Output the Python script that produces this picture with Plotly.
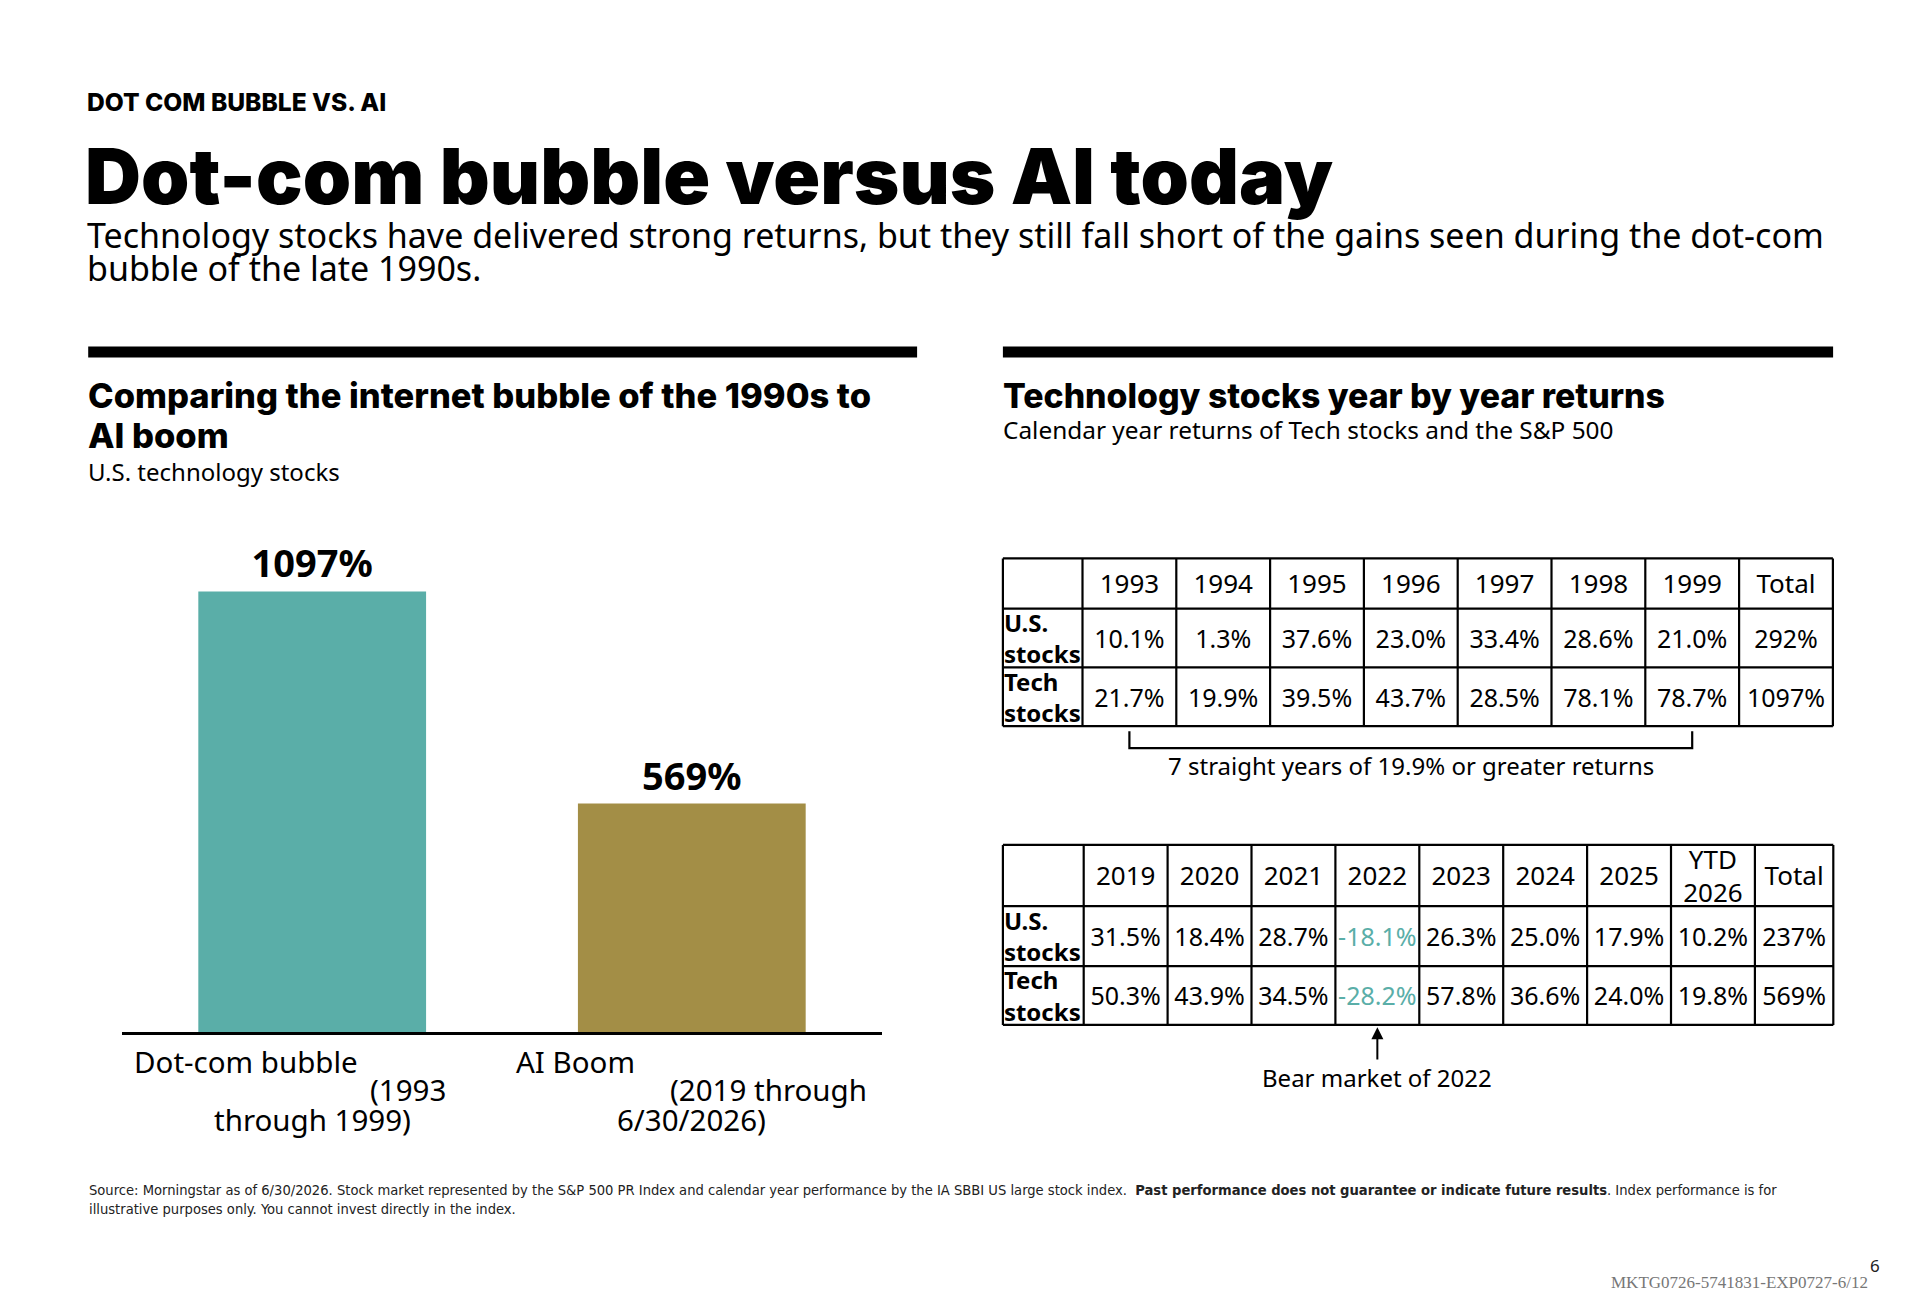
import plotly.graph_objects as go

W, H = 1920, 1309

# ---- bar chart data ----
periods = ["Dot-com bubble", "AI Boom"]
period_line2 = ["(1993", "(2019 through"]
period_line3 = ["through 1999)", "6/30/2026)"]
total_returns = [1097, 569]
bar_colors = ["#5aaea8", "#a38e46"]

# ---- table data ----
years_90s = ["1993", "1994", "1995", "1996", "1997", "1998", "1999", "Total"]
us_90s = ["10.1%", "1.3%", "37.6%", "23.0%", "33.4%", "28.6%", "21.0%", "292%"]
tech_90s = ["21.7%", "19.9%", "39.5%", "43.7%", "28.5%", "78.1%", "78.7%", "1097%"]

years_ai = ["2019", "2020", "2021", "2022", "2023", "2024", "2025", "YTD<br>2026", "Total"]
us_ai = ["31.5%", "18.4%", "28.7%", "-18.1%", "26.3%", "25.0%", "17.9%", "10.2%", "237%"]
tech_ai = ["50.3%", "43.9%", "34.5%", "-28.2%", "57.8%", "36.6%", "24.0%", "19.8%", "569%"]

row_labels = ["U.S.<br>stocks", "Tech<br>stocks"]

TEAL = "#5aaea8"
BODY = "Noto Sans"
HEAVY = "Inter"


def py(px):
    return 1 - px / H


def pxx(px):
    return px / W


fig = go.Figure()

# bars
fig.add_trace(go.Bar(
    x=periods, y=total_returns, width=0.6,
    marker=dict(color=bar_colors, line=dict(width=0)),
    texttemplate="<b>%{y}%</b>", textposition="outside",
    textfont=dict(family=BODY, size=38, color="black"),
    cliponaxis=False, showlegend=False, hoverinfo="skip",
    xaxis="x", yaxis="y",
))

# tables are drawn on a hidden axis in pixel-like units (0,0 = top-left corner of the first table)
OX, OY = 1002.9, 558.4
TXT_DY = 3.5  # text sits a little below the geometric middle of each cell


def add_table(top, col_widths, row_heights, header, rows, shapes):
    edges_x = [0]
    for w in col_widths:
        edges_x.append(edges_x[-1] + w)
    edges_y = [top]
    for h in row_heights:
        edges_y.append(edges_y[-1] + h)
    for ex in edges_x:
        shapes.append(dict(type="line", xref="x2", yref="y2", x0=ex, x1=ex, y0=edges_y[0], y1=edges_y[-1],
                           line=dict(color="black", width=2.2)))
    for ey in edges_y:
        shapes.append(dict(type="line", xref="x2", yref="y2", x0=edges_x[0], x1=edges_x[-1], y0=ey, y1=ey,
                           line=dict(color="black", width=2.2)))
    cx = [(edges_x[i] + edges_x[i + 1]) / 2 for i in range(1, len(col_widths))]
    cy = [(edges_y[i] + edges_y[i + 1]) / 2 + TXT_DY for i in range(len(row_heights))]
    fig.add_trace(go.Scatter(
        x=cx, y=[cy[0]] * len(header), text=header, mode="text",
        textfont=dict(family=BODY, size=26, color="black"),
        showlegend=False, hoverinfo="skip", xaxis="x2", yaxis="y2", cliponaxis=False,
    ))
    for r, vals in enumerate(rows):
        fig.add_trace(go.Scatter(
            x=[edges_x[0] + 1], y=[cy[r + 1]], text=["<b>" + row_labels[r] + "</b>"], mode="text",
            textposition="middle right",
            textfont=dict(family=BODY, size=24, color="black"),
            showlegend=False, hoverinfo="skip", xaxis="x2", yaxis="y2", cliponaxis=False,
        ))
        fig.add_trace(go.Scatter(
            x=cx, y=[cy[r + 1]] * len(vals), text=vals, mode="text",
            textfont=dict(family=BODY, size=25,
                          color=[TEAL if v.startswith("-") else "black" for v in vals]),
            showlegend=False, hoverinfo="skip", xaxis="x2", yaxis="y2", cliponaxis=False,
        ))
    return edges_x, edges_y, cx


shapes = []
ex1, ey1, cx1 = add_table(0, [79.6] + [93.8] * 8, [50.2, 58.8, 58.8], years_90s, [us_90s, tech_90s], shapes)
ex2, ey2, cx2 = add_table(286.5, [80.8] + [83.9] * 8 + [78.4], [61.2, 60, 58.8], years_ai, [us_ai, tech_ai], shapes)

# bracket under 1993..1999
b_left, b_right = cx1[0], cx1[years_90s.index("1999")]
b_top, b_bot = ey1[-1] + 5, ey1[-1] + 22
shapes.append(dict(type="path", xref="x2", yref="y2",
                   path=f"M {b_left},{b_top} L {b_left},{b_bot} L {b_right},{b_bot} L {b_right},{b_top}",
                   line=dict(color="black", width=2.2)))

# black header rules
for x0, x1 in [(88.2, 917.1), (1002.9, 1833.1)]:
    shapes.append(dict(type="rect", xref="paper", yref="paper", x0=pxx(x0), x1=pxx(x1), y0=py(357.5),
                       y1=py(346.5), fillcolor="black", line=dict(width=0)))

annotations = []


def text(x, y, s, size, family=BODY, weight=None, anchor="left", color="black", **kw):
    f = dict(family=family, size=size, color=color)
    if weight:
        f["weight"] = weight
    annotations.append(dict(xref="paper", yref="paper", x=pxx(x), y=py(y), text=s, showarrow=False,
                            xanchor=anchor, yanchor="middle", font=f, align=anchor, **kw))


text(85, 101.6, "DOT COM BUBBLE VS. AI", 24.6, family=HEAVY, weight=800)
text(83, 176, "Dot-com bubble versus AI today", 77.5, family=HEAVY, weight=900)
text(85, 235, "Technology stocks have delivered strong returns, but they still fall short of the gains seen during the dot-com", 34)
text(85, 268.2, "bubble of the late 1990s.", 34)

text(86, 395.5, "Comparing the internet bubble of the 1990s to", 34.5, family=HEAVY, weight=800)
text(86, 436, "AI boom", 34.5, family=HEAVY, weight=800)
text(86, 471.4, "U.S. technology stocks", 24)

text(1001, 395.5, "Technology stocks year by year returns", 33.8, family=HEAVY, weight=800)
text(1001, 429.8, "Calendar year returns of Tech stocks and the S&P 500", 24.4)

# category labels under the bars
shifts = [(-180, 136), (-177.5, 177.6)]
for i, p in enumerate(periods):
    for line, y, anchor, sh in [(p, 1061.6, "left", shifts[i][0]),
                                (period_line2[i], 1089.8, "right", shifts[i][1]),
                                (period_line3[i], 1119.2, "center", 0)]:
        annotations.append(dict(xref="x", yref="paper", x=p, y=py(y), text=line, showarrow=False,
                                xanchor=anchor, yanchor="middle", xshift=sh,
                                font=dict(family=BODY, size=29.5, color="black")))

# table notes
annotations.append(dict(xref="x2", yref="y2", x=(b_left + b_right) / 2, y=ey1[-1] + 39.2,
                        text="7 straight years of 19.9% or greater returns", showarrow=False,
                        font=dict(family=BODY, size=24, color="black")))
bear_x = cx2[years_ai.index("2022")]
annotations.append(dict(xref="x2", yref="y2", x=bear_x, y=ey2[-1] + 2.4, ax=bear_x, ay=ey2[-1] + 52.7,
                        axref="x2", ayref="y2", text="Bear market of 2022", showarrow=True,
                        arrowhead=2, arrowsize=1.2, arrowwidth=2, arrowcolor="black",
                        font=dict(family=BODY, size=24, color="black")))

# footer
annotations.append(dict(
    xref="paper", yref="paper", x=pxx(87), y=py(1199.4), xanchor="left", yanchor="middle", align="left",
    showarrow=False,
    text=("Source: Morningstar as of 6/30/2026. Stock market represented by the S&P 500 PR Index and calendar year "
          "performance by the IA SBBI US large stock index.  <b>Past performance does not guarantee or indicate future "
          "results</b>. Index performance is for<br>illustrative purposes only. You cannot invest directly in the index."),
    font=dict(family="DejaVu Sans Condensed, DejaVu Sans", size=14.6, color="#222222"),
))
text(1882, 1265, "6", 17, anchor="right", color="#222222")
text(1870, 1282, "MKTG0726-5741831-EXP0727-6/12", 17, family="Liberation Serif", anchor="right", color="#777777")

fig.update_layout(
    width=W, height=H,
    margin=dict(l=0, r=0, t=0, b=0),
    paper_bgcolor="white", plot_bgcolor="white",
    showlegend=False,
    xaxis=dict(domain=[pxx(122.4), pxx(881.6)], range=[-0.5, 1.5], type="category",
               showline=True, linecolor="black", linewidth=3, showticklabels=False, ticks="",
               showgrid=False, zeroline=False, fixedrange=True),
    yaxis=dict(domain=[py(1032.2), py(550)], range=[0, 1200], visible=False, showgrid=False,
               zeroline=False, fixedrange=True),
    xaxis2=dict(domain=[pxx(OX - 10), pxx(OX + 840)], range=[-10, 840], visible=False, fixedrange=True),
    yaxis2=dict(domain=[py(OY + 540), py(OY - 12)], range=[540, -12], visible=False, fixedrange=True),
    shapes=shapes,
    annotations=annotations,
)

# the page body has a default 8px margin; drop it so the figure sits at the window origin
fig.write_html("out.html", config={"displayModeBar": False},
               post_script="document.body.style.margin='0px';")
